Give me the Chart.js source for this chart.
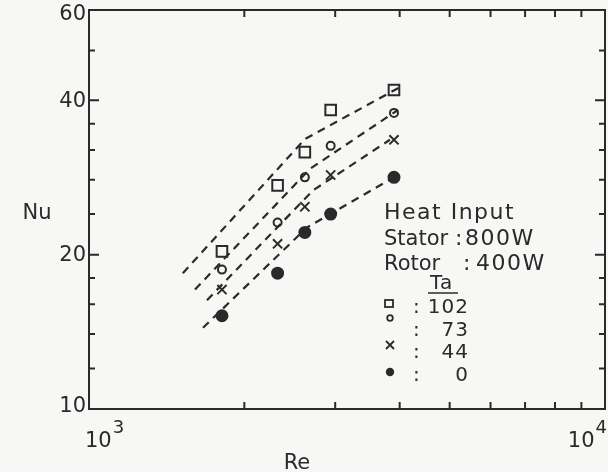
<!DOCTYPE html>
<html>
<head>
<meta charset="utf-8">
<script src="https://cdn.jsdelivr.net/npm/chart.js@4/dist/chart.umd.min.js"></script>
<style>
  html, body { margin: 0; padding: 0; background: #f7f7f5; }
  #wrap { width: 608px; height: 472px; }
</style>
</head>
<body>
<div id="wrap"><canvas id="nuChart" width="608" height="472"></canvas></div>
<script>
// measured points, Re vs Nu for each Ta
const re = [1810, 2320, 2620, 2940, 3900];
const nuTa102 = [20.3, 27.3, 31.7, 38.3, 41.9];
const nuTa73 = [18.7, 23.1, 28.3, 32.6, 37.8];
const nuTa44 = [17.1, 21.0, 24.8, 28.6, 33.5];
const nuTa0 = [15.2, 18.4, 22.1, 24.0, 28.3];

// dashed correlation lines (start, break, end)
const reLine102 = [1520, 2620, 4000];
const nuLine102 = [18.4, 33.6, 42.4];
const reLine73 = [1605, 2680, 3970];
const nuLine73 = [17.1, 29.4, 38.3];
const reLine44 = [1693, 2718, 3830];
const nuLine44 = [16.3, 26.7, 33.5];
const reLine0 = [1663, 2645, 3900];
const nuLine0 = [14.4, 22.6, 28.3];

const yMajor = [10, 20, 40, 60];
const yMinor = [12, 14, 16, 18, 24, 28, 32, 36, 50];
const xMajor = [1000, 10000];
const xMinor = [2000, 3000, 4000, 5000, 6000, 7000, 8000, 9000];

const ink = '#2a2a2a';
const font = '"DejaVu Sans", sans-serif';

function pts(xs, ys) {
  return xs.map((x, i) => ({ x: x, y: ys[i] }));
}

function dashed(xs, ys) {
  return {
    data: pts(xs, ys),
    showLine: true,
    borderColor: ink,
    borderWidth: 2.2,
    borderDash: [8, 6],
    pointRadius: 0,
    fill: false
  };
}

function marks(ys, style, radius, filled) {
  return {
    data: pts(re, ys),
    showLine: false,
    pointStyle: style,
    pointRadius: radius,
    pointBorderWidth: 2,
    pointBorderColor: ink,
    pointBackgroundColor: filled ? ink : '#f7f7f5'
  };
}

// box, inward ticks, labels and the text legend
const frame = {
  id: 'frame',
  afterDraw(chart) {
    const ctx = chart.ctx;
    const a = chart.chartArea;
    const xs = chart.scales.x, ys = chart.scales.y;
    ctx.save();
    ctx.strokeStyle = ink;
    ctx.fillStyle = ink;
    ctx.lineWidth = 2;
    ctx.strokeRect(a.left, a.top, a.right - a.left, a.bottom - a.top);

    ctx.beginPath();
    const tick = (v, len, axis) => {
      if (axis === 'y') {
        const p = ys.getPixelForValue(v);
        ctx.moveTo(a.left, p); ctx.lineTo(a.left + len, p);
        ctx.moveTo(a.right, p); ctx.lineTo(a.right - len, p);
      } else {
        const p = xs.getPixelForValue(v);
        ctx.moveTo(p, a.bottom); ctx.lineTo(p, a.bottom - len);
        ctx.moveTo(p, a.top); ctx.lineTo(p, a.top + len);
      }
    };
    yMajor.forEach(v => tick(v, 10, 'y'));
    yMinor.forEach(v => tick(v, 6, 'y'));
    xMinor.forEach(v => tick(v, 7, 'x'));
    ctx.stroke();

    // y tick labels
    ctx.font = '21px ' + font;
    ctx.textAlign = 'right';
    ctx.textBaseline = 'middle';
    yMajor.forEach(v => {
      const off = v === 60 ? 5 : (v === 10 ? -2 : 1);
      ctx.fillText(String(v), a.left - 3, ys.getPixelForValue(v) + off);
    });

    // x tick labels with exponents
    xMajor.forEach(v => {
      const p = xs.getPixelForValue(v);
      const exp = String(Math.round(Math.log10(v)));
      ctx.textAlign = 'left';
      ctx.textBaseline = 'alphabetic';
      ctx.font = '21px ' + font;
      const w = ctx.measureText('10').width;
      ctx.font = '18px ' + font;
      const we = ctx.measureText(exp).width;
      let x0 = p - 4;
      if (v === 10000) x0 = p - w - we + 1;
      ctx.font = '21px ' + font;
      ctx.fillText('10', x0, a.bottom + 38);
      ctx.font = '18px ' + font;
      ctx.fillText(exp, x0 + w + 1, a.bottom + 24);
    });

    // axis titles
    ctx.font = '21px ' + font;
    ctx.textAlign = 'center';
    ctx.fillText('Re', 297, 469);
    ctx.textBaseline = 'middle';
    ctx.fillText('Nu', 37, 214);

    // legend text
    ctx.textAlign = 'left';
    ctx.textBaseline = 'alphabetic';
    ctx.font = '22px ' + font;
    ctx.letterSpacing = '1.5px';
    ctx.fillText('Heat Input', 384, 219);
    ctx.letterSpacing = '0px';
    ctx.font = '21px ' + font;
    ctx.fillText('Stator', 384, 245);
    ctx.fillText('Rotor', 384, 270);
    ctx.font = '22px ' + font;
    ctx.letterSpacing = '1.5px';
    ctx.fillText(':', 455, 245);
    ctx.fillText('800W', 465, 245);
    ctx.fillText(':', 463, 270);
    ctx.fillText('400W', 476, 270);
    ctx.letterSpacing = '1px';
    ctx.font = '20px ' + font;
    ctx.fillText('Ta', 430, 289);
    ctx.beginPath();
    ctx.lineWidth = 1.5;
    ctx.moveTo(428, 293); ctx.lineTo(458, 293);
    ctx.stroke();
    const rows = [['102', 313], ['73', 336], ['44', 358], ['0', 381]];
    rows.forEach(r => {
      ctx.textAlign = 'left';
      ctx.fillText(':', 413, r[1]);
      ctx.textAlign = 'right';
      ctx.fillText(r[0], 469, r[1]);
    });
    // legend symbols
    ctx.lineWidth = 1.8;
    ctx.strokeRect(385, 300, 8, 7);
    ctx.beginPath();
    ctx.arc(390, 318, 2.8, 0, Math.PI * 2);
    ctx.stroke();
    ctx.beginPath();
    ctx.moveTo(386, 341); ctx.lineTo(394, 349);
    ctx.moveTo(394, 341); ctx.lineTo(386, 349);
    ctx.stroke();
    ctx.beginPath();
    ctx.arc(390, 372, 4.2, 0, Math.PI * 2);
    ctx.fill();
    ctx.restore();
  }
};

const ctx = document.getElementById('nuChart').getContext('2d');
new Chart(ctx, {
  type: 'scatter',
  data: {
    datasets: [
      dashed(reLine102, nuLine102),
      dashed(reLine73, nuLine73),
      dashed(reLine44, nuLine44),
      dashed(reLine0, nuLine0),
      marks(nuTa102, 'rect', 7.5, false),
      marks(nuTa73, 'circle', 4, false),
      marks(nuTa44, 'crossRot', 6.5, false),
      marks(nuTa0, 'circle', 5.5, true)
    ]
  },
  options: {
    responsive: false,
    animation: false,
    layout: { autoPadding: false, padding: { left: 89, right: 3, top: 10, bottom: 63 } },
    plugins: {
      legend: { display: false },
      tooltip: { enabled: false }
    },
    scales: {
      x: {
        type: 'logarithmic',
        display: false,
        min: 1000,
        max: 10000
      },
      y: {
        type: 'logarithmic',
        display: false,
        min: 10,
        max: 60
      }
    }
  },
  plugins: [frame]
});
</script>
</body>
</html>
